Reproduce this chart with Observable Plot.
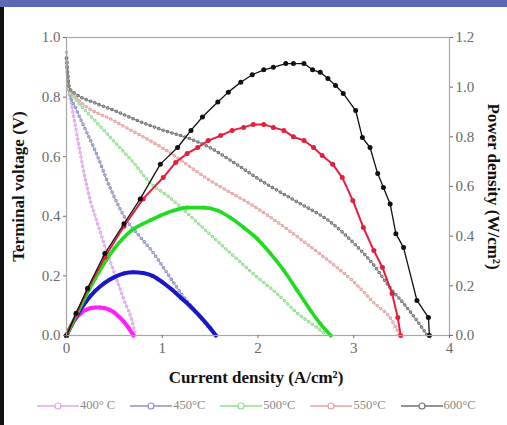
<!DOCTYPE html>
<html>
<head>
<meta charset="utf-8">
<script src="https://cdn.jsdelivr.net/npm/d3@7"></script>
<script src="https://cdn.jsdelivr.net/npm/@observablehq/plot@0.6"></script>
<style>
  html, body { margin: 0; padding: 0; background: #fff; }
  #wrap { position: relative; width: 507px; height: 425px; overflow: hidden; background: #fff; }
  #topbar { position: absolute; left: 0; top: 0; width: 507px; height: 7px; background: #5b68b4; }
  #leftbar { position: absolute; left: 0; top: 7px; width: 4px; height: 418px; background: #111; }
  #chart { position: absolute; left: 0; top: 0; }
  #legend { position: absolute; left: 36px; top: 398px; display: flex; align-items: center;
            font-family: "Liberation Serif", serif; font-size: 12.5px; color: #8a8a8a; white-space: nowrap; }
  #legend .item { display: flex; align-items: center; margin-right: 14px; }
  #legend svg { display: block; }
</style>
</head>
<body>
<div id="wrap">
  <div id="topbar"></div>
  <div id="leftbar"></div>
  <div id="chart"></div>
  <div id="legend"></div>
</div>
<script>
// ---------- data ----------
const temperatures = ["400° C", "450°C", "500°C", "550°C", "600°C"];
const voltageColors = ["#dfa6ea", "#8c90c6", "#8fe08f", "#e6a0a0", "#707070"];
const powerColors = ["#ff1fff", "#1818c8", "#1fdc1f", "#e61e3c", "#111111"];

// terminal voltage (V) vs current density (A/cm2)
const v400I = [0, 0.02, 0.05, 0.1, 0.15, 0.2, 0.25, 0.3, 0.35, 0.4, 0.5, 0.6, 0.7, 0.72];
const v400V = [0.95, 0.84, 0.78, 0.69, 0.60, 0.52, 0.45, 0.40, 0.35, 0.30, 0.21, 0.12, 0.03, 0.0];
const v450I = [0, 0.03, 0.1, 0.2, 0.3, 0.45, 0.62, 0.77, 0.9, 1.05, 1.2, 1.35, 1.45, 1.56];
const v450V = [0.93, 0.82, 0.76, 0.69, 0.62, 0.50, 0.39, 0.33, 0.28, 0.21, 0.14, 0.08, 0.04, 0.0];
const v500I = [0, 0.03, 0.1, 0.3, 0.5, 0.7, 0.88, 1.05, 1.43, 1.7, 1.99, 2.2, 2.41, 2.6, 2.72];
const v500V = [0.92, 0.82, 0.79, 0.72, 0.65, 0.58, 0.51, 0.47, 0.36, 0.28, 0.196, 0.14, 0.075, 0.03, 0.0];
const v550I = [0, 0.03, 0.1, 0.5, 1.0, 1.5, 2.0, 2.5, 2.76, 3.0, 3.21, 3.4, 3.48];
const v550V = [0.93, 0.83, 0.80, 0.72, 0.63, 0.52, 0.425, 0.31, 0.245, 0.18, 0.11, 0.05, 0.0];
const v600I = [0, 0.03, 0.1, 0.3, 0.5, 0.75, 1.0, 1.29, 1.5, 1.75, 2.03, 2.4, 2.76, 3.0, 3.2, 3.38, 3.54, 3.66, 3.77];
const v600V = [0.93, 0.83, 0.81, 0.78, 0.755, 0.72, 0.69, 0.66, 0.63, 0.58, 0.52, 0.45, 0.38, 0.31, 0.24, 0.16, 0.10, 0.05, 0.0];

// power density (W/cm2) vs current density (A/cm2)
const p400I = [0, 0.05, 0.1, 0.15, 0.2, 0.25, 0.3, 0.35, 0.4, 0.45, 0.5, 0.55, 0.6, 0.65, 0.70];
const p400P = [0, 0.04, 0.07, 0.09, 0.103, 0.11, 0.113, 0.113, 0.11, 0.103, 0.092, 0.075, 0.055, 0.03, 0.0];
const p450I = [0, 0.1, 0.2, 0.3, 0.4, 0.5, 0.6, 0.7, 0.8, 0.9, 1.0, 1.1, 1.2, 1.3, 1.4, 1.5, 1.56];
const p450P = [0, 0.075, 0.135, 0.18, 0.212, 0.235, 0.25, 0.255, 0.252, 0.24, 0.215, 0.185, 0.15, 0.115, 0.075, 0.03, 0.0];
const p500I = [0, 0.1, 0.3, 0.5, 0.67, 0.88, 0.98, 1.12, 1.26, 1.43, 1.58, 1.71, 1.85, 1.99, 2.13, 2.27, 2.41, 2.55, 2.65, 2.76];
const p500P = [0, 0.08, 0.23, 0.35, 0.42, 0.465, 0.483, 0.503, 0.515, 0.515, 0.503, 0.475, 0.435, 0.39, 0.33, 0.262, 0.181, 0.10, 0.048, 0.0];
const p550I = [0, 0.1, 0.22, 0.4, 0.6, 0.8, 1.01, 1.14, 1.26, 1.37, 1.48, 1.61, 1.73, 1.85, 1.95, 2.06, 2.16, 2.27, 2.37, 2.48, 2.58, 2.67, 2.78, 2.88, 2.99, 3.1, 3.21, 3.3, 3.4, 3.46, 3.49];
const p550P = [0, 0.085, 0.185, 0.315, 0.44, 0.55, 0.636, 0.697, 0.733, 0.757, 0.785, 0.805, 0.826, 0.838, 0.85, 0.85, 0.838, 0.826, 0.80, 0.785, 0.757, 0.725, 0.69, 0.636, 0.544, 0.435, 0.342, 0.274, 0.169, 0.072, 0.0];
const p600I = [0, 0.1, 0.22, 0.4, 0.6, 0.77, 0.98, 1.16, 1.30, 1.42, 1.58, 1.69, 1.82, 1.94, 2.06, 2.16, 2.29, 2.37, 2.48, 2.57, 2.65, 2.73, 2.81, 2.89, 3.02, 3.09, 3.17, 3.25, 3.31, 3.38, 3.44, 3.52, 3.66, 3.78, 3.79];
const p600P = [0, 0.09, 0.19, 0.33, 0.45, 0.55, 0.69, 0.757, 0.826, 0.88, 0.94, 0.98, 1.02, 1.05, 1.07, 1.08, 1.095, 1.095, 1.095, 1.07, 1.06, 1.035, 1.007, 0.975, 0.906, 0.797, 0.757, 0.652, 0.596, 0.53, 0.41, 0.354, 0.141, 0.072, 0.0];

const xTicks = [0, 1, 2, 3, 4];
const leftTicks = [0, 0.2, 0.4, 0.6, 0.8, 1.0];
const rightTicks = [0, 0.2, 0.4, 0.6, 0.8, 1.0, 1.2];
const powerMax = 1.2; // right axis top; left axis top is 1.0

// ---------- build tables ----------
const vSets = [[v400I, v400V], [v450I, v450V], [v500I, v500V], [v550I, v550V], [v600I, v600V]];
const pSets = [[p400I, p400P], [p450I, p450P], [p500I, p500P], [p550I, p550P], [p600I, p600P]];
const voltage = vSets.flatMap(([I, V], k) => I.map((c, i) => ({t: temperatures[k], k, i: c, v: V[i]})));
const power = pSets.flatMap(([I, P], k) => I.map((c, i) => ({t: temperatures[k], k, i: c, p: P[i]})));

const serif = "'Liberation Serif', 'Times New Roman', serif";
const marks = [];

// voltage curves (thin pale lines with hollow circles)
for (let k = 0; k < 5; k++) {
  const d = voltage.filter(r => r.k === k);
  marks.push(Plot.line(d, {x: "i", y: "v", stroke: voltageColors[k], strokeWidth: 3.6,
    strokeDasharray: "0 4.6", strokeLinecap: "round", curve: "monotone-x"}));
  marks.push(Plot.line(d, {x: "i", y: "v", stroke: "white", strokeWidth: 1.6,
    strokeDasharray: "0 4.6", strokeLinecap: "round", curve: "monotone-x"}));
  marks.push(Plot.line(d, {x: "i", y: "v", stroke: voltageColors[k], strokeWidth: 0.9, curve: "monotone-x"}));
}
// power curves (thick, filled markers)
const pWidths = [4, 4, 3.6, 2, 1.3];
for (let k = 0; k < 5; k++) {
  const d = power.filter(r => r.k === k);
  marks.push(Plot.line(d, {x: "i", y: r => r.p / powerMax, stroke: powerColors[k], strokeWidth: pWidths[k], curve: k < 3 ? "monotone-x" : "linear"}));
  marks.push(Plot.dot(d, {x: "i", y: r => r.p / powerMax, fill: powerColors[k], r: k < 3 ? 2 : 2.5, stroke: "none"}));
}

marks.push(Plot.frame({stroke: "#a8a8a8", strokeWidth: 1.2}));
marks.push(Plot.axisX({ticks: xTicks, tickFormat: d => d, tickSize: 3, tickPadding: 4, label: null}));
marks.push(Plot.axisY({ticks: leftTicks, tickFormat: d => d.toFixed(1), tickSize: 3, tickPadding: 3, label: null}));
marks.push(Plot.axisY({anchor: "right", ticks: rightTicks.map(t => t / powerMax),
  tickFormat: d => (d * powerMax).toFixed(1), tickSize: 3, tickPadding: 3, label: null}));

// axis titles
const titleOpts = {text: d => d, textAnchor: "middle", lineAnchor: "middle",
  fontWeight: "bold", fontSize: 17, fill: "#111", fontFamily: serif};
marks.push(Plot.text(["Terminal voltage (V)"], {...titleOpts, frameAnchor: "left", dx: -48, rotate: -90}));
marks.push(Plot.text(["Power density (W/cm²)"], {...titleOpts, frameAnchor: "right", dx: 44, rotate: 90}));
marks.push(Plot.text(["Current density (A/cm²)"], {...titleOpts, frameAnchor: "bottom", dy: 42, dx: -2}));

const chart = Plot.plot({
  width: 507,
  height: 390,
  marginLeft: 66,
  marginRight: 58,
  marginTop: 37,
  marginBottom: 55,
  x: {domain: [0, 4]},
  y: {domain: [0, 1]},
  style: {fontFamily: serif, fontSize: "15px", color: "#6a6a6a", background: "transparent", overflow: "visible"},
  marks
});
document.getElementById("chart").appendChild(chart);

// legend
const legend = document.getElementById("legend");
temperatures.forEach((t, k) => {
  const item = document.createElement("div");
  item.className = "item";
  const ns = "http://www.w3.org/2000/svg";
  const svg = document.createElementNS(ns, "svg");
  svg.setAttribute("width", 44); svg.setAttribute("height", 12);
  const ln = document.createElementNS(ns, "line");
  ln.setAttribute("x1", 1); ln.setAttribute("x2", 43); ln.setAttribute("y1", 6); ln.setAttribute("y2", 6);
  ln.setAttribute("stroke", voltageColors[k]); ln.setAttribute("stroke-width", 1.5);
  const c = document.createElementNS(ns, "circle");
  c.setAttribute("cx", 22); c.setAttribute("cy", 6); c.setAttribute("r", 3);
  c.setAttribute("fill", "white"); c.setAttribute("stroke", voltageColors[k]); c.setAttribute("stroke-width", 1.2);
  svg.appendChild(ln); svg.appendChild(c);
  const span = document.createElement("span");
  span.textContent = t;
  item.appendChild(svg); item.appendChild(span);
  legend.appendChild(item);
});
</script>
</body>
</html>
